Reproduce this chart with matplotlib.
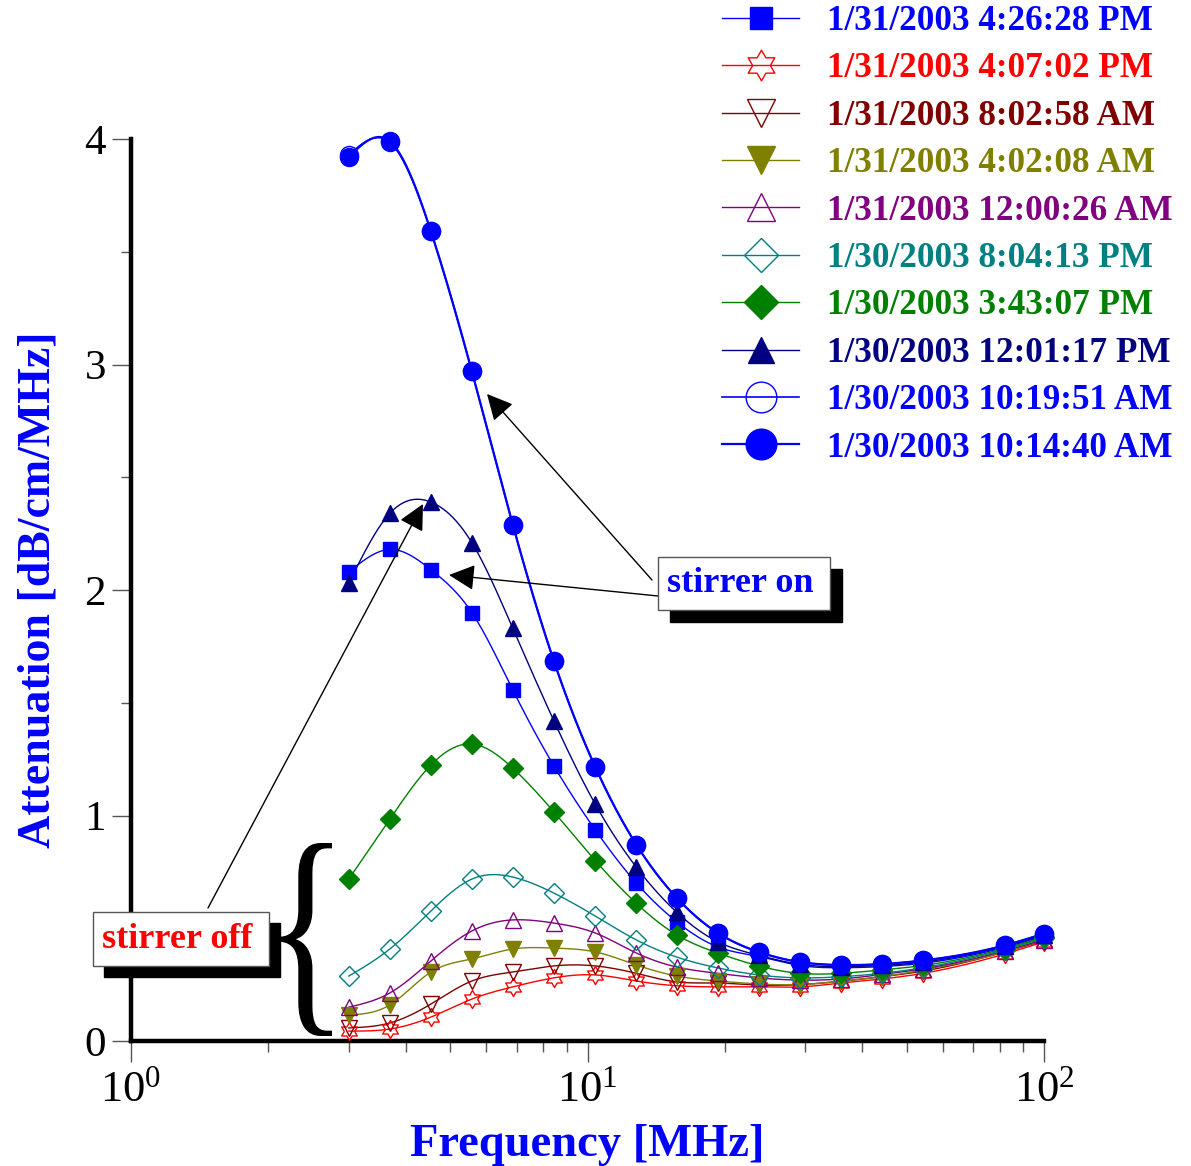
import numpy as np
import matplotlib
matplotlib.use("Agg")
import matplotlib.pyplot as plt
from matplotlib.lines import Line2D
from matplotlib.path import Path
from matplotlib.patches import Rectangle, PathPatch
from matplotlib.textpath import TextPath
from matplotlib.font_manager import FontProperties
from matplotlib.transforms import Affine2D
from matplotlib.ticker import FixedLocator, FixedFormatter, NullFormatter

plt.rcParams['font.family'] = ['Liberation Serif', 'DejaVu Serif']
plt.rcParams['mathtext.fontset'] = 'custom'
plt.rcParams['mathtext.rm'] = 'Liberation Serif'

# ---------------- data ----------------
freq = [3.0, 3.69, 4.54, 5.58, 6.86, 8.44, 10.4, 12.8, 15.7, 19.3, 23.7,
        29.2, 35.9, 44.1, 54.3, 82.0, 100.0]

labels = ["1/31/2003 4:26:28 PM", "1/31/2003 4:07:02 PM", "1/31/2003 8:02:58 AM",
          "1/31/2003 4:02:08 AM", "1/31/2003 12:00:26 AM", "1/30/2003 8:04:13 PM",
          "1/30/2003 3:43:07 PM", "1/30/2003 12:01:17 PM", "1/30/2003 10:19:51 AM",
          "1/30/2003 10:14:40 AM"]

sq_pm0426 = [2.08, 2.18, 2.09, 1.90, 1.557, 1.22, 0.936, 0.70, 0.528, 0.417, 0.375,
             0.335, 0.325, 0.33, 0.345, 0.415, 0.465]
star_pm0407 = [0.044, 0.053, 0.106, 0.186, 0.24, 0.28, 0.293, 0.266, 0.245, 0.24, 0.24,
               0.24, 0.257, 0.275, 0.30, 0.386, 0.44]
dtri_am0802 = [0.058, 0.08, 0.164, 0.266, 0.306, 0.333, 0.333, 0.30, 0.262, 0.257, 0.248,
               0.25, 0.265, 0.285, 0.31, 0.395, 0.445]
dtri_am0402 = [0.115, 0.16, 0.306, 0.364, 0.408, 0.412, 0.395, 0.337, 0.288, 0.266, 0.253,
               0.25, 0.265, 0.285, 0.315, 0.395, 0.45]
utri_am1200 = [0.15, 0.213, 0.355, 0.488, 0.537, 0.523, 0.479, 0.39, 0.328, 0.30, 0.28,
               0.27, 0.275, 0.295, 0.32, 0.40, 0.45]
dia_pm0804 = [0.288, 0.408, 0.577, 0.718, 0.727, 0.656, 0.554, 0.448, 0.372, 0.324, 0.293,
              0.28, 0.285, 0.30, 0.325, 0.405, 0.455]
dia_pm0343 = [0.718, 0.984, 1.224, 1.317, 1.21, 1.016, 0.80, 0.61, 0.47, 0.39, 0.333,
              0.30, 0.30, 0.315, 0.335, 0.41, 0.46]
tri_pm1201 = [2.03, 2.34, 2.39, 2.21, 1.83, 1.42, 1.05, 0.77, 0.57, 0.44, 0.38,
              0.34, 0.33, 0.335, 0.35, 0.42, 0.47]
ocirc_am1019 = [3.93, 3.985, 3.59, 2.97, 2.29, 1.685, 1.215, 0.87, 0.634, 0.479, 0.395,
                0.35, 0.337, 0.341, 0.357, 0.424, 0.476]
circ_am1014 = [3.92, 3.99, 3.59, 2.97, 2.29, 1.685, 1.215, 0.87, 0.634, 0.479, 0.395,
               0.35, 0.337, 0.341, 0.357, 0.424, 0.476]

series = [sq_pm0426, star_pm0407, dtri_am0802, dtri_am0402, utri_am1200,
          dia_pm0804, dia_pm0343, tri_pm1201, ocirc_am1019, circ_am1014]
colors = ['#0000FF', '#FF0000', '#800000', '#808000', '#800080',
          '#008080', '#008000', '#000080', '#0000FF', '#0000FF']

# hexagram marker
ang = np.pi / 2 + np.arange(12) * np.pi / 6
rad = np.where(np.arange(12) % 2 == 0, 1.0, 0.577)
hexv = np.column_stack([rad * np.cos(ang), rad * np.sin(ang)])
hexv = np.vstack([hexv, hexv[:1]])
hexagram = Path(hexv, [Path.MOVETO] + [Path.LINETO] * 11 + [Path.CLOSEPOLY])

markers = ['s', hexagram, 'v', 'v', '^', 'D', 'D', '^', 'o', 'o']
filled = [True, False, False, True, False, False, True, True, False, True]
msizes = [9.5, 13, 12, 12, 12, 10, 10, 11, 13, 13]
lwidths = [1.0, 1.0, 1.0, 1.0, 1.0, 1.0, 1.0, 1.0, 1.2, 1.6]


def natural_spline(x, y, xs):
    x = np.asarray(x, float); y = np.asarray(y, float)
    n = len(x); h = np.diff(x)
    A = np.zeros((n, n)); b = np.zeros(n)
    A[0, 0] = 1; A[-1, -1] = 1
    for i in range(1, n - 1):
        A[i, i - 1] = h[i - 1]; A[i, i] = 2 * (h[i - 1] + h[i]); A[i, i + 1] = h[i]
        b[i] = 6 * ((y[i + 1] - y[i]) / h[i] - (y[i] - y[i - 1]) / h[i - 1])
    M = np.linalg.solve(A, b)
    idx = np.clip(np.searchsorted(x, xs) - 1, 0, n - 2)
    x0 = x[idx]; x1 = x[idx + 1]; hh = x1 - x0
    t0 = x1 - xs; t1 = xs - x0
    return (M[idx] * t0 ** 3 / (6 * hh) + M[idx + 1] * t1 ** 3 / (6 * hh)
            + (y[idx] / hh - M[idx] * hh / 6) * t0 + (y[idx + 1] / hh - M[idx + 1] * hh / 6) * t1)


W, H = 1191, 1166
fig = plt.figure(figsize=(W / 100, H / 100), dpi=100)
ax = fig.add_axes([131 / W, 1 - 1041 / H, (1044 - 131) / W, (1041 - 139) / H])

lf = np.log10(freq)
xs = np.linspace(lf[0], lf[-1], 600)
handles = []
for vals, c, m, f, ms, lw in zip(series, colors, markers, filled, msizes, lwidths):
    ys = natural_spline(lf, vals, xs)
    ax.plot(10 ** xs, ys, color=c, lw=lw, zorder=2, clip_on=False)
    mfc = c if f else 'none'
    ax.plot(freq, vals, linestyle='none', marker=m, ms=ms, mfc=mfc, mec=c,
            mew=1.0, zorder=3, clip_on=False)
    handles.append(Line2D([], [], color=c, lw=lw, marker=m, ms=ms, mfc=mfc, mec=c, mew=1.0))

ax.set_xscale('log')
ax.set_xlim(1, 100)
ax.set_ylim(0, 4)
for s in ['top', 'right']:
    ax.spines[s].set_visible(False)
for s in ['left', 'bottom']:
    ax.spines[s].set_linewidth(3.2)

ax.xaxis.set_major_locator(FixedLocator([1, 10, 100]))
ax.xaxis.set_major_formatter(FixedFormatter([r'$\mathregular{10^{0}}$',
                                             r'$\mathregular{10^{1}}$',
                                             r'$\mathregular{10^{2}}$']))
minors = [k * d for d in (1, 10) for k in range(2, 10)]
ax.xaxis.set_minor_locator(FixedLocator(minors))
ax.xaxis.set_minor_formatter(NullFormatter())
ax.set_yticks([0, 1, 2, 3, 4])
ax.set_yticks([0.5, 1.5, 2.5, 3.5], minor=True)
ax.tick_params(axis='x', which='major', direction='out', length=15, width=1.0,
               color='#555555', labelsize=32, pad=6)
ax.tick_params(axis='x', which='minor', direction='out', length=8, width=1.0,
               color='#555555')
ax.tick_params(axis='y', which='major', direction='out', length=14, width=1.0,
               color='#555555', labelsize=31, pad=4)
ax.tick_params(axis='y', which='minor', direction='out', length=7, width=1.0,
               color='#555555')

ax.set_xlabel('Frequency [MHz]', fontsize=33.5, fontweight='bold', color='#0000FF',
              labelpad=10)
ax.set_ylabel('Attenuation [dB/cm/MHz]', fontsize=33, fontweight='bold',
              color='#0000FF', labelpad=18)

# legend
fig.legend(handles, labels, loc='upper left', bbox_to_anchor=(722 / W, 1 - 5 / H),
           frameon=False, prop=FontProperties(family='Liberation Serif', weight='bold', size=25.3),
           labelcolor='linecolor', handlelength=2.2, handletextpad=0.8,
           labelspacing=0.41, markerscale=1.7, borderpad=0.0, borderaxespad=0.0)


def fp(x, y):
    return (x / W, 1 - y / H)


def shadow_box(x0, y0, x1, y1, off, text, color):
    fig.add_artist(Rectangle(fp(x0 + off, y1 + off), (x1 - x0) / W, (y1 - y0) / H,
                             transform=fig.transFigure, facecolor='black',
                             edgecolor='black', zorder=5))
    fig.add_artist(Rectangle(fp(x0, y1), (x1 - x0) / W, (y1 - y0) / H,
                             transform=fig.transFigure, facecolor='white',
                             edgecolor='#555555', lw=1.0, zorder=6))
    fig.text((x0 + x1) / 2 / W - 4 / W, 1 - (y0 + y1) / 2 / H, text, ha='center', va='center',
             fontsize=26, fontweight='bold', color=color, zorder=7)


arrow_kw = dict(arrowstyle='-|>,head_length=0.8,head_width=0.4', mutation_scale=20,
                color='black', lw=1.0, shrinkA=0, shrinkB=0)
ax.annotate('', xy=fp(487, 394), xycoords='figure fraction',
            xytext=fp(652, 580), textcoords='figure fraction', arrowprops=arrow_kw,
            zorder=4)
ax.annotate('', xy=fp(449, 575), xycoords='figure fraction',
            xytext=fp(658, 596), textcoords='figure fraction', arrowprops=arrow_kw,
            zorder=4)
ax.annotate('', xy=fp(423, 504), xycoords='figure fraction',
            xytext=fp(208, 908), textcoords='figure fraction', arrowprops=arrow_kw,
            zorder=4)

shadow_box(658, 557, 830, 610, 12, 'stirrer on', '#0000FF')
shadow_box(93, 912, 269, 966, 11, 'stirrer off', '#FF0000')

# brace
tp = TextPath((0, 0), '{', size=100, prop=FontProperties(family='Liberation Serif'))
ext = tp.get_extents()
bx0, bx1, by0, by1 = 280, 332, 843, 1036
tr = (Affine2D().translate(-ext.x0, -ext.y0)
      .scale((bx1 - bx0) / ext.width / W, (by1 - by0) / ext.height / H)
      .translate(bx0 / W, 1 - by1 / H) + fig.transFigure)
fig.add_artist(PathPatch(tp, transform=tr, facecolor='black', edgecolor='none', zorder=5))

fig.savefig('out.png', dpi=100)
